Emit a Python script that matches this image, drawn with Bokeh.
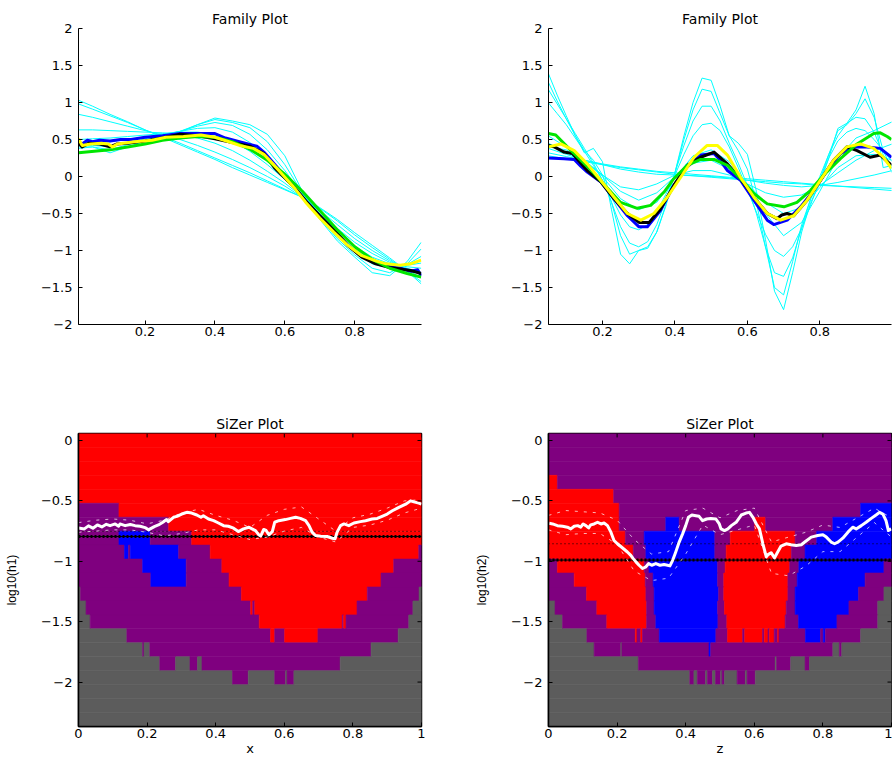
import numpy as np
from bokeh.plotting import figure
from bokeh.layouts import column, row
from bokeh.models import FixedTicker, Range1d, ColumnDataSource
from bokeh.embed import file_html
from bokeh.resources import INLINE

# ---------------- tick labels ----------------
fam_yticks = [-2, -1.5, -1, -0.5, 0, 0.5, 1, 1.5, 2]
fam_ylabels = ["\u22122", "\u22121.5", "\u22121", "\u22120.5", "0", "0.5", "1", "1.5", "2"]
fam_xticks = [0.2, 0.4, 0.6, 0.8]
fam_xlabels = ["0.2", "0.4", "0.6", "0.8"]
siz_xticks = [0, 0.2, 0.4, 0.6, 0.8, 1]
siz_xlabels = ["0", "0.2", "0.4", "0.6", "0.8", "1"]
siz_yticks = [-2, -1.5, -1, -0.5, 0]
siz_ylabels = ["\u22122", "\u22121.5", "\u22121", "\u22120.5", "0"]

# ---------------- Family plot 1 (x) ----------------
fam1_cx = [0.01, 0.05, 0.1, 0.15, 0.2, 0.25, 0.3, 0.35, 0.4, 0.45, 0.5, 0.55, 0.6, 0.65, 0.7, 0.75, 0.8, 0.85, 0.9, 0.95, 0.99]
fam1_c1 = [1.03, 0.95, 0.84, 0.74, 0.63, 0.53, 0.43, 0.33, 0.23, 0.12, 0.02, -0.08, -0.18, -0.28, -0.42, -0.58, -0.76, -0.93, -1.10, -1.28, -1.45]
fam1_c2 = [0.98, 0.91, 0.82, 0.73, 0.63, 0.54, 0.45, 0.35, 0.25, 0.15, 0.05, -0.06, -0.17, -0.28, -0.43, -0.60, -0.79, -0.96, -1.12, -1.28, -1.42]
fam1_c3 = [0.84, 0.80, 0.74, 0.68, 0.62, 0.56, 0.50, 0.42, 0.33, 0.23, 0.12, 0.00, -0.13, -0.28, -0.46, -0.65, -0.84, -1.00, -1.14, -1.26, -1.37]
fam1_c4 = [0.63, 0.63, 0.62, 0.61, 0.60, 0.59, 0.57, 0.52, 0.45, 0.35, 0.22, 0.07, -0.09, -0.27, -0.48, -0.70, -0.89, -1.04, -1.16, -1.24, -1.30]
fam1_c5 = [0.50, 0.51, 0.52, 0.54, 0.56, 0.58, 0.60, 0.60, 0.57, 0.48, 0.34, 0.16, -0.04, -0.26, -0.50, -0.74, -0.94, -1.09, -1.18, -1.22, -1.24]
fam1_c6 = [0.45, 0.46, 0.47, 0.50, 0.53, 0.57, 0.61, 0.65, 0.66, 0.60, 0.46, 0.26, 0.02, -0.25, -0.52, -0.78, -0.98, -1.13, -1.20, -1.20, -1.17]
fam1_c7 = [0.42, 0.42, 0.40, 0.46, 0.51, 0.56, 0.61, 0.68, 0.73, 0.69, 0.57, 0.36, 0.08, -0.24, -0.54, -0.81, -1.02, -1.18, -1.24, -1.19, -1.08]
fam1_c8 = [0.40, 0.40, 0.36, 0.43, 0.49, 0.55, 0.61, 0.70, 0.77, 0.73, 0.66, 0.47, 0.16, -0.22, -0.56, -0.84, -1.06, -1.24, -1.30, -1.18, -0.98]
fam1_c9 = [0.38, 0.40, 0.32, 0.40, 0.48, 0.55, 0.60, 0.70, 0.79, 0.75, 0.70, 0.57, 0.28, -0.20, -0.58, -0.87, -1.09, -1.30, -1.34, -1.15, -0.89]

fam1_blue_x = [0.01, 0.02, 0.035, 0.05, 0.07, 0.1, 0.13, 0.16, 0.2, 0.25, 0.3, 0.35, 0.4, 0.43, 0.47, 0.52, 0.54, 0.57, 0.6, 0.63, 0.66, 0.7, 0.74, 0.78, 0.82, 0.86, 0.9, 0.93, 0.96, 0.98, 0.99]
fam1_blue_y = [0.47, 0.44, 0.49, 0.47, 0.49, 0.48, 0.50, 0.50, 0.53, 0.55, 0.58, 0.58, 0.58, 0.52, 0.47, 0.41, 0.33, 0.17, 0.00, -0.16, -0.33, -0.53, -0.72, -0.93, -1.08, -1.17, -1.22, -1.24, -1.28, -1.26, -1.34]
fam1_black_x = [0.01, 0.02, 0.04, 0.07, 0.1, 0.12, 0.15, 0.2, 0.25, 0.3, 0.35, 0.4, 0.45, 0.5, 0.54, 0.57, 0.6, 0.63, 0.66, 0.7, 0.74, 0.78, 0.82, 0.86, 0.9, 0.93, 0.96, 0.99]
fam1_black_y = [0.45, 0.40, 0.45, 0.44, 0.40, 0.44, 0.45, 0.48, 0.52, 0.57, 0.55, 0.51, 0.46, 0.41, 0.31, 0.12, -0.02, -0.16, -0.33, -0.53, -0.72, -0.93, -1.09, -1.18, -1.23, -1.25, -1.27, -1.31]
fam1_green_x = [0.01, 0.1, 0.15, 0.2, 0.25, 0.3, 0.35, 0.4, 0.45, 0.5, 0.55, 0.6, 0.65, 0.7, 0.75, 0.8, 0.85, 0.9, 0.95, 0.99]
fam1_green_y = [0.32, 0.36, 0.40, 0.44, 0.49, 0.52, 0.54, 0.53, 0.47, 0.37, 0.22, 0.03, -0.20, -0.46, -0.72, -0.95, -1.12, -1.24, -1.31, -1.36]
fam1_yellow_x = [0.01, 0.02, 0.045, 0.075, 0.095, 0.107, 0.121, 0.17, 0.22, 0.26, 0.31, 0.36, 0.4, 0.44, 0.47, 0.51, 0.54, 0.57, 0.6, 0.63, 0.66, 0.7, 0.74, 0.78, 0.82, 0.86, 0.89, 0.93, 0.96, 0.99]
fam1_yellow_y = [0.51, 0.42, 0.44, 0.45, 0.44, 0.40, 0.44, 0.47, 0.49, 0.53, 0.54, 0.56, 0.53, 0.47, 0.42, 0.38, 0.30, 0.15, -0.01, -0.17, -0.35, -0.56, -0.75, -0.93, -1.07, -1.14, -1.18, -1.20, -1.18, -1.13]

# ---------------- Family plot 2 (z) ----------------
fam2_wx = [0.05, 0.075, 0.1, 0.125, 0.15, 0.175, 0.2, 0.225, 0.25, 0.275, 0.3, 0.325, 0.35, 0.375, 0.4, 0.425, 0.45, 0.475, 0.5, 0.525,
           0.55, 0.575, 0.6, 0.625, 0.65, 0.675, 0.7, 0.725, 0.75, 0.775, 0.8, 0.825, 0.85, 0.875, 0.9, 0.925, 0.95, 0.975, 1.0]
fam2_w1 = [1.40, 1.10, 0.82, 0.55, 0.32, 0.38, 0.20, -0.45, -1.05, -1.18, -1.00, -0.95, -0.75, -0.40, 0.05, 0.55, 1.00, 1.33, 1.30, 0.95,
           0.55, 0.45, 0.30, -0.20, -0.85, -1.55, -1.80, -1.30, -0.75, -0.35, -0.10, 0.25, 0.65, 0.72, 0.90, 1.22, 0.85, 0.12, 0.15]
fam2_w2 = [1.28, 1.02, 0.78, 0.55, 0.35, 0.22, 0.02, -0.35, -0.80, -1.05, -1.00, -0.97, -0.75, -0.38, 0.05, 0.50, 0.90, 1.18, 1.15, 0.85,
           0.55, 0.35, 0.10, -0.35, -0.95, -1.50, -1.60, -1.15, -0.65, -0.30, -0.05, 0.30, 0.62, 0.70, 0.85, 1.05, 0.80, 0.35, 0.10]
fam2_w3 = [1.18, 0.98, 0.78, 0.58, 0.38, 0.18, -0.05, -0.35, -0.68, -0.90, -0.95, -0.88, -0.65, -0.32, 0.05, 0.42, 0.75, 0.95, 0.95, 0.75,
           0.45, 0.18, -0.12, -0.50, -0.95, -1.30, -1.35, -1.10, -0.70, -0.30, 0.00, 0.30, 0.55, 0.72, 0.80, 0.78, 0.60, 0.30, 0.05]
fam2_w4 = [1.00, 0.85, 0.70, 0.52, 0.34, 0.15, -0.05, -0.28, -0.52, -0.68, -0.72, -0.65, -0.48, -0.24, 0.02, 0.30, 0.55, 0.70, 0.72, 0.62,
           0.40, 0.12, -0.18, -0.48, -0.78, -1.00, -1.08, -0.95, -0.70, -0.38, -0.05, 0.25, 0.48, 0.60, 0.65, 0.62, 0.50, 0.35, 0.20]
fam2_mx = [0.05, 0.1, 0.15, 0.2, 0.25, 0.3, 0.35, 0.4, 0.45, 0.5, 0.55, 0.6, 0.65, 0.7, 0.75, 0.8, 0.85, 0.9, 0.95, 1.0]
fam2_m1 = [0.45, 0.33, 0.20, 0.02, -0.14, -0.18, -0.10, 0.02, 0.08, 0.08, 0.02, -0.10, -0.22, -0.28, -0.25, -0.12, 0.05, 0.22, 0.35, 0.44]
fam2_m2 = [0.40, 0.36, 0.22, 0.00, -0.30, -0.45, -0.35, -0.02, 0.28, 0.36, 0.20, -0.12, -0.50, -0.80, -0.62, -0.20, 0.25, 0.52, 0.62, 0.74]
fam2_m3 = [0.55, 0.40, 0.22, 0.02, -0.20, -0.32, -0.22, 0.00, 0.18, 0.22, 0.10, -0.10, -0.35, -0.50, -0.42, -0.15, 0.12, 0.28, 0.30, 0.22]
fam2_f1 = [0.32, 0.27, 0.22, 0.17, 0.13, 0.10, 0.07, 0.05, 0.03, 0.01, -0.01, -0.03, -0.05, -0.07, -0.09, -0.11, -0.13, -0.15, -0.17, -0.19]
fam2_f2 = [0.28, 0.24, 0.20, 0.16, 0.12, 0.09, 0.06, 0.03, 0.01, -0.01, -0.03, -0.05, -0.07, -0.09, -0.10, -0.12, -0.13, -0.14, -0.15, -0.16]
fam2_f3 = [0.38, 0.30, 0.22, 0.16, 0.10, 0.06, 0.03, 0.02, 0.01, 0.00, -0.02, -0.05, -0.09, -0.12, -0.14, -0.12, -0.08, -0.03, 0.02, 0.08]

fam2_green_x = [0.051, 0.071, 0.103, 0.14, 0.177, 0.214, 0.25, 0.296, 0.333, 0.37, 0.397, 0.434, 0.471, 0.508, 0.545, 0.581, 0.618, 0.655, 0.701, 0.737, 0.774, 0.811, 0.857, 0.903, 0.949, 0.967, 0.986, 0.998]
fam2_green_y = [0.58, 0.56, 0.40, 0.22, 0.04, -0.16, -0.35, -0.43, -0.39, -0.21, -0.03, 0.15, 0.23, 0.23, 0.15, -0.03, -0.23, -0.37, -0.41, -0.35, -0.19, 0.02, 0.24, 0.44, 0.58, 0.59, 0.54, 0.50]
fam2_yellow_x = [0.051, 0.085, 0.122, 0.158, 0.195, 0.232, 0.269, 0.306, 0.342, 0.379, 0.416, 0.453, 0.489, 0.517, 0.545, 0.581, 0.618, 0.655, 0.692, 0.728, 0.765, 0.802, 0.838, 0.875, 0.912, 0.949, 0.976, 0.998]
fam2_yellow_y = [0.40, 0.44, 0.35, 0.17, -0.05, -0.28, -0.50, -0.59, -0.50, -0.28, -0.01, 0.26, 0.42, 0.42, 0.29, -0.01, -0.28, -0.50, -0.59, -0.53, -0.32, -0.05, 0.22, 0.40, 0.44, 0.38, 0.26, 0.11]
fam2_blue_x = [0.051, 0.094, 0.122, 0.14, 0.158, 0.195, 0.232, 0.269, 0.301, 0.324, 0.36, 0.397, 0.434, 0.471, 0.508, 0.525, 0.545, 0.581, 0.618, 0.655, 0.673, 0.71, 0.747, 0.783, 0.82, 0.857, 0.893, 0.93, 0.967, 0.998]
fam2_blue_y = [0.25, 0.24, 0.23, 0.14, 0.06, -0.07, -0.30, -0.53, -0.68, -0.68, -0.46, -0.12, 0.13, 0.29, 0.31, 0.22, 0.08, -0.05, -0.32, -0.59, -0.65, -0.59, -0.41, -0.19, 0.08, 0.31, 0.40, 0.40, 0.38, 0.26]
fam2_black_x = [0.051, 0.067, 0.094, 0.117, 0.158, 0.195, 0.232, 0.269, 0.301, 0.329, 0.36, 0.397, 0.434, 0.471, 0.508, 0.545, 0.581, 0.618, 0.655, 0.682, 0.695, 0.71, 0.728, 0.765, 0.802, 0.838, 0.875, 0.903, 0.939, 0.967, 0.998]
fam2_black_y = [0.42, 0.40, 0.33, 0.31, 0.08, -0.07, -0.30, -0.50, -0.62, -0.62, -0.44, -0.12, 0.15, 0.26, 0.33, 0.17, -0.03, -0.28, -0.50, -0.57, -0.52, -0.50, -0.53, -0.32, -0.05, 0.22, 0.40, 0.35, 0.26, 0.29, 0.15]

# ---------------- SiZer maps ----------------
log10h_levels = [0.0, -0.1155, -0.231, -0.3465, -0.462, -0.5775, -0.693, -0.8085, -0.924, -1.0395, -1.155,
                 -1.2705, -1.386, -1.5015, -1.617, -1.7325, -1.848, -1.9635, -2.079, -2.1945, -2.31]
level_step = 0.1155
map_colors = {"R": "#FF0000", "B": "#0000FF", "P": "#7F007F", "G": "#5C5C5C"}

# each row: (colour code, right end of run) from x = 0 to 1, top row = largest h
sizer1_rows = [
    [("R", 1)], [("R", 1)], [("R", 1)], [("R", 1)], [("R", 1)],
    [("P", 0.118), ("R", 1)],
    [("P", 0.263), ("R", 1)],
    [("P", 0.118), ("B", 0.209), ("P", 0.330), ("R", 1)],
    [("P", 0.134), ("B", 0.146), ("P", 0.151), ("B", 0.292), ("P", 0.384), ("R", 0.992), ("P", 1)],
    [("P", 0.187), ("B", 0.314), ("P", 0.418), ("R", 0.919), ("P", 1)],
    [("P", 0.211), ("B", 0.314), ("P", 0.439), ("R", 0.882), ("P", 1)],
    [("G", 0.006), ("P", 0.475), ("R", 0.842), ("P", 0.993), ("G", 1)],
    [("G", 0.022), ("P", 0.502), ("R", 0.508), ("P", 0.514), ("R", 0.812), ("P", 0.975), ("G", 1)],
    [("G", 0.034), ("P", 0.527), ("R", 0.769), ("P", 0.773), ("R", 0.780), ("P", 0.963), ("G", 1)],
    [("G", 0.141), ("P", 0.560), ("R", 0.572), ("P", 0.601), ("R", 0.698), ("P", 0.932), ("G", 1)],
    [("G", 0.187), ("P", 0.191), ("G", 0.208), ("P", 0.853), ("G", 1)],
    [("G", 0.237), ("P", 0.283), ("G", 0.325), ("P", 0.347), ("G", 0.360), ("P", 0.763), ("G", 1)],
    [("G", 0.449), ("P", 0.495), ("G", 0.572), ("P", 0.604), ("G", 0.608), ("P", 0.628), ("G", 1)],
    [("G", 1)], [("G", 1)], [("G", 1)],
]
sizer2_rows = [
    [("P", 1)], [("P", 1)], [("P", 1)],
    [("R", 0.026), ("P", 1)],
    [("R", 0.190), ("P", 1)],
    [("R", 0.206), ("P", 0.910), ("B", 1)],
    [("R", 0.206), ("P", 0.342), ("B", 0.381), ("P", 0.601), ("R", 0.633), ("P", 0.829), ("B", 1)],
    [("R", 0.224), ("P", 0.279), ("B", 0.485), ("P", 0.530), ("R", 0.719), ("P", 0.782), ("B", 1)],
    [("R", 0.247), ("P", 0.284), ("B", 0.485), ("P", 0.518), ("R", 0.708), ("P", 0.748), ("B", 1)],
    [("P", 0.026), ("R", 0.279), ("P", 0.293), ("B", 0.493), ("P", 0.515), ("R", 0.703), ("P", 0.730), ("B", 0.978), ("P", 1)],
    [("P", 0.075), ("R", 0.282), ("P", 0.305), ("B", 0.493), ("P", 0.511), ("R", 0.698), ("P", 0.725), ("B", 0.923), ("P", 1)],
    [("P", 0.111), ("R", 0.284), ("P", 0.308), ("B", 0.496), ("P", 0.511), ("R", 0.698), ("P", 0.719), ("B", 0.904), ("P", 0.978), ("G", 1)],
    [("G", 0.019), ("P", 0.141), ("R", 0.286), ("P", 0.308), ("B", 0.493), ("P", 0.513), ("R", 0.693), ("P", 0.719), ("B", 0.876), ("P", 0.960), ("G", 1)],
    [("G", 0.041), ("P", 0.170), ("R", 0.286), ("P", 0.313), ("B", 0.494), ("P", 0.520), ("R", 0.690), ("P", 0.729), ("B", 0.841), ("P", 0.960), ("G", 1)],
    [("G", 0.112), ("P", 0.253), ("R", 0.258), ("P", 0.269), ("R", 0.274), ("P", 0.323), ("B", 0.488), ("P", 0.522), ("R", 0.566),
     ("P", 0.572), ("R", 0.624), ("P", 0.629), ("R", 0.640), ("P", 0.644), ("R", 0.658), ("P", 0.668), ("R", 0.672), ("P", 0.749),
     ("B", 0.793), ("P", 0.801), ("B", 0.807), ("P", 0.910), ("G", 1)],
    [("G", 0.133), ("P", 0.211), ("G", 0.214), ("P", 0.468), ("B", 0.473), ("P", 0.829), ("G", 0.848), ("P", 0.855), ("G", 1)],
    [("G", 0.262), ("P", 0.661), ("G", 0.665), ("P", 0.706), ("G", 0.748), ("P", 0.761), ("G", 1)],
    [("G", 0.412), ("P", 0.424), ("G", 0.434), ("P", 0.458), ("G", 0.463), ("P", 0.478), ("G", 0.487), ("P", 0.502), ("G", 0.506),
     ("P", 0.513), ("G", 0.550), ("P", 0.574), ("G", 0.579), ("P", 0.603), ("G", 1)],
    [("G", 1)], [("G", 1)], [("G", 1)],
]

ess1_x = [0.0, 0.017, 0.029, 0.042, 0.055, 0.068, 0.081, 0.092, 0.107, 0.117, 0.121, 0.136, 0.151, 0.165, 0.180, 0.194, 0.204, 0.209,
          0.221, 0.233, 0.246, 0.256, 0.262, 0.277, 0.287, 0.301, 0.316, 0.330, 0.345, 0.357, 0.364, 0.379, 0.394, 0.408, 0.423, 0.437,
          0.452, 0.466, 0.481, 0.497, 0.506, 0.516, 0.526, 0.531, 0.540, 0.547, 0.555, 0.565, 0.572, 0.584, 0.603, 0.618, 0.633, 0.647,
          0.662, 0.672, 0.681, 0.691, 0.706, 0.725, 0.740, 0.748, 0.754, 0.764, 0.774, 0.788, 0.803, 0.822, 0.837, 0.856, 0.871, 0.885,
          0.900, 0.915, 0.934, 0.954, 0.968, 0.978, 0.992, 1.0]
ess1_y = [-0.724, -0.732, -0.707, -0.726, -0.699, -0.716, -0.694, -0.705, -0.691, -0.710, -0.691, -0.705, -0.696, -0.705, -0.710,
          -0.721, -0.740, -0.732, -0.713, -0.699, -0.677, -0.655, -0.672, -0.636, -0.628, -0.609, -0.595, -0.601, -0.617, -0.636,
          -0.623, -0.650, -0.664, -0.683, -0.705, -0.710, -0.726, -0.754, -0.732, -0.718, -0.732, -0.746, -0.781, -0.792, -0.737,
          -0.745, -0.781, -0.754, -0.677, -0.664, -0.655, -0.645, -0.636, -0.645, -0.664, -0.705, -0.759, -0.787, -0.792, -0.795,
          -0.809, -0.814, -0.759, -0.705, -0.691, -0.705, -0.683, -0.672, -0.664, -0.650, -0.645, -0.628, -0.609, -0.582, -0.554,
          -0.527, -0.500, -0.508, -0.519, -0.527]
ess1_band_x = [0.0, 0.05, 0.1, 0.15, 0.2, 0.25, 0.3, 0.35, 0.4, 0.45, 0.5, 0.55, 0.6, 0.65, 0.7, 0.75, 0.8, 0.85, 0.9, 0.95, 1.0]
ess1_upper = [-0.68, -0.66, -0.65, -0.66, -0.69, -0.66, -0.60, -0.57, -0.62, -0.66, -0.72, -0.62, -0.57, -0.55, -0.65, -0.75, -0.64, -0.61, -0.56, -0.50, -0.49]
ess1_lower = [-0.76, -0.75, -0.74, -0.74, -0.76, -0.79, -0.77, -0.74, -0.74, -0.78, -0.82, -0.80, -0.75, -0.72, -0.80, -0.84, -0.72, -0.70, -0.66, -0.60, -0.56]

ess2_x = [0.002, 0.012, 0.026, 0.041, 0.055, 0.065, 0.075, 0.085, 0.094, 0.101, 0.109, 0.117, 0.123, 0.133, 0.143, 0.153, 0.162, 0.172,
          0.182, 0.191, 0.201, 0.216, 0.230, 0.240, 0.247, 0.255, 0.264, 0.274, 0.284, 0.292, 0.301, 0.313, 0.325, 0.337, 0.347, 0.354,
          0.362, 0.371, 0.381, 0.391, 0.400, 0.408, 0.418, 0.430, 0.439, 0.449, 0.461, 0.473, 0.488, 0.498, 0.503, 0.513, 0.523, 0.533,
          0.547, 0.562, 0.576, 0.586, 0.596, 0.606, 0.615, 0.625, 0.635, 0.640, 0.649, 0.659, 0.667, 0.678, 0.693, 0.707, 0.722, 0.737,
          0.749, 0.766, 0.785, 0.800, 0.810, 0.824, 0.834, 0.844, 0.858, 0.873, 0.887, 0.897, 0.912, 0.926, 0.941, 0.955, 0.965, 0.975,
          0.984, 0.991, 0.999]
ess2_y = [-0.686, -0.691, -0.705, -0.710, -0.718, -0.732, -0.710, -0.705, -0.718, -0.691, -0.705, -0.724, -0.699, -0.691, -0.677,
          -0.691, -0.683, -0.705, -0.759, -0.828, -0.855, -0.890, -0.923, -0.951, -0.978, -1.005, -1.033, -1.060, -1.046, -1.019,
          -1.033, -1.019, -1.033, -1.027, -1.033, -1.038, -0.992, -0.923, -0.841, -0.773, -0.705, -0.636, -0.617, -0.623, -0.628,
          -0.664, -0.650, -0.645, -0.650, -0.691, -0.732, -0.746, -0.732, -0.705, -0.677, -0.617, -0.601, -0.595, -0.636, -0.691,
          -0.732, -0.855, -0.964, -0.945, -0.929, -0.972, -0.929, -0.874, -0.855, -0.863, -0.869, -0.863, -0.836, -0.800, -0.787,
          -0.781, -0.800, -0.841, -0.855, -0.841, -0.809, -0.759, -0.718, -0.732, -0.705, -0.677, -0.645, -0.617, -0.595, -0.609,
          -0.664, -0.746, -0.732]
ess2_band_x = [0.0, 0.05, 0.1, 0.15, 0.2, 0.25, 0.3, 0.35, 0.4, 0.45, 0.5, 0.55, 0.6, 0.65, 0.7, 0.75, 0.8, 0.85, 0.9, 0.95, 1.0]
ess2_upper = [-0.62, -0.58, -0.59, -0.60, -0.66, -0.82, -0.94, -0.92, -0.58, -0.56, -0.64, -0.58, -0.56, -0.84, -0.80, -0.76, -0.70, -0.72, -0.64, -0.56, -0.64]
ess2_lower = [-0.74, -0.78, -0.77, -0.77, -0.86, -1.08, -1.16, -1.14, -0.94, -0.70, -0.78, -0.74, -0.70, -1.10, -1.12, -1.04, -0.92, -0.92, -0.80, -0.68, -0.80]

sizer1_hline_thick = -0.795
sizer1_hline_thin = -0.752
sizer2_hline_thick = -0.99
sizer2_hline_thin = -0.855

# ---------------- styling helpers ----------------
TICK_FONT = "DejaVu Sans"
TICK_SIZE = "13px"
FRAME_W, FRAME_H = 343, 296


def style_axes(p, xticks, xlabels, yticks, ylabels, lw=1.0):
    p.xaxis.ticker = FixedTicker(ticks=xticks)
    p.xaxis.major_label_overrides = dict(zip(xticks, xlabels))
    p.yaxis.ticker = FixedTicker(ticks=yticks)
    p.yaxis.major_label_overrides = dict(zip(yticks, ylabels))
    for ax in p.axis:
        ax.major_tick_in = 4
        ax.major_tick_out = 0
        ax.minor_tick_line_color = None
        ax.axis_line_color = "black"
        ax.axis_line_width = lw
        ax.major_tick_line_color = "black"
        ax.major_label_text_font = TICK_FONT
        ax.major_label_text_font_size = TICK_SIZE
        ax.major_label_text_color = "black"
        ax.axis_label_text_color = "black"
    p.xaxis.major_label_standoff = 2
    p.yaxis.major_label_standoff = 6
    p.grid.visible = False


def style_title(p):
    p.title.align = "center"
    p.title.text_font = TICK_FONT
    p.title.text_font_size = "14px"
    p.title.text_font_style = "normal"
    p.title.text_color = "black"
    p.title.standoff = 4


def family_fig(width, left_border, right_border, x_lo, x_hi):
    p = figure(width=width, height=380, x_range=Range1d(x_lo, x_hi), y_range=Range1d(-2, 2),
               output_backend="svg", toolbar_location=None, title="Family Plot",
               min_border_left=left_border, min_border_right=right_border,
               min_border_top=28, min_border_bottom=56)
    p.outline_line_color = None
    style_axes(p, fam_xticks, fam_xlabels, fam_yticks, fam_ylabels)
    style_title(p)
    return p


def add_family(p, cyan_sets, thick):
    for xs, ys in cyan_sets:
        p.line(xs, ys, line_color="#00FFFF", line_width=1)
    for xs, ys, col in thick:
        p.line(xs, ys, line_color=col, line_width=3, line_join="round")


def sizer_fig(width, left_border, right_border, xlabel, ylabel, rows, ess_x, ess_y, band_x, up, lo, hthick, hthin):
    top = log10h_levels[0] + level_step / 2
    bot = log10h_levels[-1] - level_step / 2
    p = figure(width=width, height=378, x_range=Range1d(0, 1), y_range=Range1d(bot, top),
               output_backend="svg", toolbar_location=None, title="SiZer Plot",
               min_border_left=left_border, min_border_right=right_border,
               min_border_top=53, min_border_bottom=29)
    L, R, T, B, C = [], [], [], [], []
    for lev, segs in zip(log10h_levels, rows):
        x0 = 0.0
        for code, x1 in segs:
            L.append(x0); R.append(x1)
            T.append(lev + level_step / 2); B.append(lev - level_step / 2)
            C.append(map_colors[code])
            x0 = x1
    src = ColumnDataSource(dict(left=L, right=R, top=T, bottom=B, color=C))
    p.quad(left="left", right="right", top="top", bottom="bottom", source=src,
           fill_color="color", line_color="color", line_width=0.6)
    # reference lines
    p.line([0, 1], [hthin, hthin], line_color="black", line_width=1, line_dash="1 3")
    p.line([0, 1], [hthick, hthick], line_color="black", line_width=1)
    p.line([0, 1], [hthick, hthick], line_color="black", line_width=3, line_dash="2 2")
    # ESS curve and band
    p.line(band_x, up, line_color="white", line_width=1, line_dash="3 6", line_alpha=0.7)
    p.line(band_x, lo, line_color="white", line_width=1, line_dash="3 6", line_alpha=0.7)
    p.line(ess_x, ess_y, line_color="white", line_width=3, line_join="round")
    # frame
    p.outline_line_color = "black"
    p.outline_line_width = 1.5
    style_axes(p, siz_xticks, siz_xlabels, siz_yticks, siz_ylabels, lw=1.5)
    style_title(p)
    # inward ticks on top and right edges
    dx = 4.0 / FRAME_W
    dy = 4.0 * (top - bot) / FRAME_H
    p.segment(x0=[1.0] * len(siz_yticks), x1=[1.0 - dx] * len(siz_yticks), y0=siz_yticks, y1=siz_yticks,
              line_color="black", line_width=1)
    p.segment(x0=siz_xticks, x1=siz_xticks, y0=[top] * len(siz_xticks), y1=[top - dy] * len(siz_xticks),
              line_color="black", line_width=1)
    p.xaxis.axis_label = xlabel
    p.xaxis.axis_label_text_font = TICK_FONT
    p.xaxis.axis_label_text_font_size = "13px"
    p.xaxis.axis_label_text_font_style = "normal"
    p.xaxis.axis_label_standoff = 0
    p.yaxis.axis_label = ylabel
    p.yaxis.axis_label_text_font = "Liberation Sans"
    p.yaxis.axis_label_text_font_size = "12px"
    p.yaxis.axis_label_text_font_style = "normal"
    p.yaxis.axis_label_standoff = 19
    return p


# ---------------- build ----------------
p1 = family_fig(470, 78, 49, 0.0097, 0.991)
add_family(p1,
           [(fam1_cx, c) for c in (fam1_c1, fam1_c2, fam1_c3, fam1_c4, fam1_c5, fam1_c6, fam1_c7, fam1_c8, fam1_c9)],
           [(fam1_blue_x, fam1_blue_y, "#0000FF"), (fam1_black_x, fam1_black_y, "black"),
            (fam1_green_x, fam1_green_y, "#00E600"), (fam1_yellow_x, fam1_yellow_y, "#FFFF00")])

p2 = family_fig(422, 78, 1, 0.051, 0.998)
add_family(p2,
           [(fam2_wx, c) for c in (fam2_w1, fam2_w2, fam2_w3, fam2_w4)] +
           [(fam2_mx, c) for c in (fam2_m1, fam2_m2, fam2_m3, fam2_f1, fam2_f2, fam2_f3)],
           [(fam2_blue_x, fam2_blue_y, "#0000FF"), (fam2_black_x, fam2_black_y, "black"),
            (fam2_green_x, fam2_green_y, "#00E600"), (fam2_yellow_x, fam2_yellow_y, "#FFFF00")])

p3 = sizer_fig(470, 78, 49, "x", "log10(h1)", sizer1_rows, ess1_x, ess1_y, ess1_band_x, ess1_upper, ess1_lower,
               sizer1_hline_thick, sizer1_hline_thin)
p4 = sizer_fig(422, 78, 1, "z", "log10(h2)", sizer2_rows, ess2_x, ess2_y, ess2_band_x, ess2_upper, ess2_lower,
               sizer2_hline_thick, sizer2_hline_thin)

layout = column(row(p1, p2), row(p3, p4))
open("out.html", "w").write(file_html(layout, INLINE))
